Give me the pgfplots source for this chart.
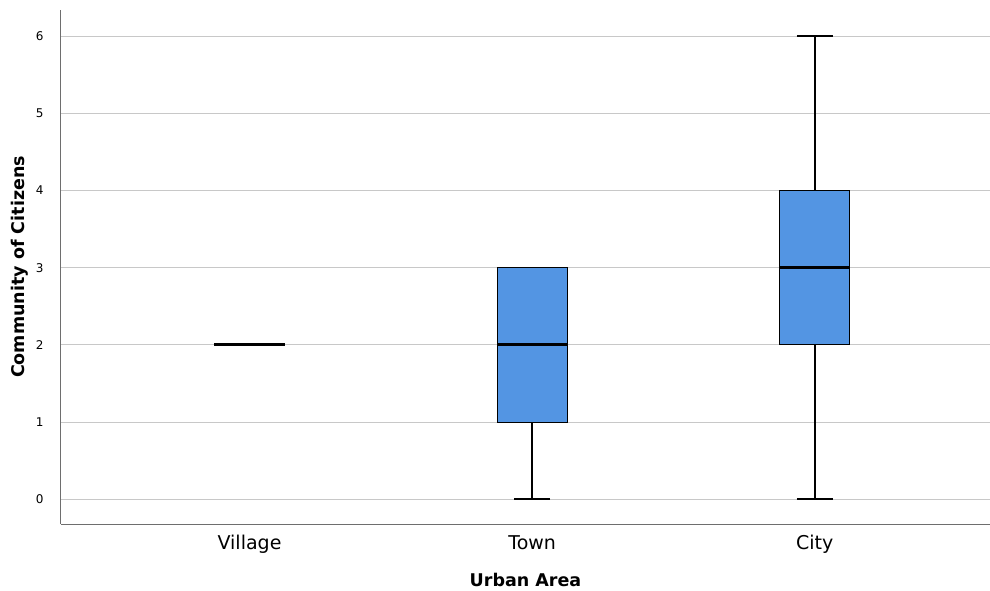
\documentclass[border=0pt]{standalone}
\usepackage{pgfplots}
\pgfplotsset{compat=1.18}
\usepgfplotslibrary{statistics}
\usepackage{fontspec}
\setmainfont{DejaVu Sans}
\definecolor{boxblue}{RGB}{83,149,227}
\definecolor{gridgray}{RGB}{200,200,200}
\definecolor{axgray}{RGB}{110,110,110}
\begin{document}
\begin{tikzpicture}
\useasboundingbox (-61pt,-66pt) rectangle (929pt,524pt);
\begin{axis}[
  at={(0pt,0pt)}, anchor=south west,
  scale only axis,
  width=929pt, height=514pt,
  xmin=-0.667, xmax=2.62,
  ymin=-0.32, ymax=6.34,
  axis lines*=left,
  axis line style={axgray, line width=1pt},
  xtick={0,1,2},
  xticklabels={Village,Town,City},
  ytick={0,1,2,3,4,5,6},
  major tick length=0pt,
  ymajorgrids,
  grid style={gridgray, line width=1pt},
  yticklabel style={font=\fontsize{12}{14}\selectfont, xshift=-14pt},
  xticklabel style={font=\fontsize{19}{22}\selectfont, yshift=-8pt},
  xlabel={\textbf{Urban Area}},
  ylabel={\textbf{Community of Citizens}},
  xlabel style={font=\fontsize{17.5}{20}\selectfont, at={(axis description cs:0.5,0)}, anchor=center, yshift=-56pt},
  ylabel style={font=\fontsize{17.5}{20}\selectfont, at={(axis description cs:0,0.5)}, anchor=center, yshift=41pt},
  /pgf/number format/assume math mode=true,
  boxplot/draw direction=y,
  boxplot/box extend=0.248,
  boxplot/whisker extend=0.127,
  boxplot/every box/.style={draw=black, line width=1pt, fill=boxblue},
  boxplot/every whisker/.style={black, line width=1.8pt},
  boxplot/every median/.style={black, line width=3pt},
  clip=false,
]
\addplot+[boxplot prepared={draw position=0, lower whisker=2, lower quartile=2, median=2, upper quartile=2, upper whisker=2}, draw=black, fill=boxblue, mark=none] coordinates {};
\addplot+[boxplot prepared={draw position=1, lower whisker=0, lower quartile=1, median=2, upper quartile=3, upper whisker=3}, draw=black, fill=boxblue, mark=none] coordinates {};
\addplot+[boxplot prepared={draw position=2, lower whisker=0, lower quartile=2, median=3, upper quartile=4, upper whisker=6}, draw=black, fill=boxblue, mark=none] coordinates {};
\end{axis}
\end{tikzpicture}
\end{document}
